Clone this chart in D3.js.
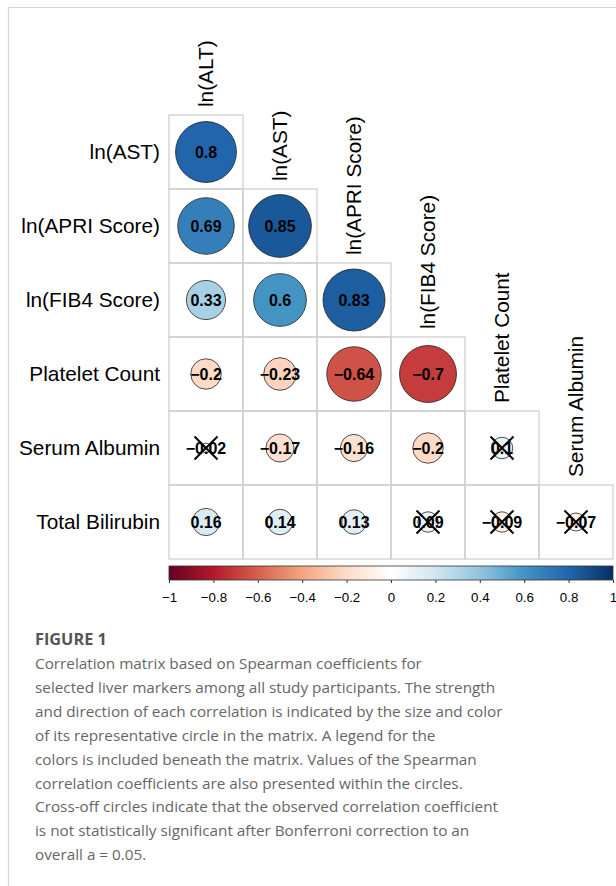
<!DOCTYPE html>
<html>
<head>
<meta charset="utf-8">
<script src="https://cdn.jsdelivr.net/npm/d3@7"></script>
<style>
  html, body { margin: 0; padding: 0; background: #fff; }
  svg { display: block; }
  .chartfont { font-family: "Liberation Sans", Arimo, Helvetica, Arial, sans-serif; }
  .capfont { font-family: "Open Sans", "Noto Sans", sans-serif; }
</style>
</head>
<body>
<svg id="chart" width="616" height="886"></svg>
<script>
// Variables in the lower-triangular Spearman correlation matrix
const rowVars = ["ln(AST)", "ln(APRI Score)", "ln(FIB4 Score)", "Platelet Count", "Serum Albumin", "Total Bilirubin"];
const colVars = ["ln(ALT)", "ln(AST)", "ln(APRI Score)", "ln(FIB4 Score)", "Platelet Count", "Serum Albumin"];

// Spearman coefficients, one row per rowVars entry (columns ln(ALT) ... )
const rhoAST      = [0.8];
const rhoAPRI     = [0.69, 0.85];
const rhoFIB4     = [0.33, 0.6, 0.83];
const rhoPlatelet = [-0.2, -0.23, -0.64, -0.7];
const rhoAlbumin  = [-0.02, -0.17, -0.16, -0.2, 0.1];
const rhoBili     = [0.16, 0.14, 0.13, 0.09, -0.09, -0.07];
const rhoRows = [rhoAST, rhoAPRI, rhoFIB4, rhoPlatelet, rhoAlbumin, rhoBili];

// Non-significant after Bonferroni correction (row, column)
const notSignificant = [[4, 0], [4, 4], [5, 3], [5, 4], [5, 5]];

// Colour legend ticks
const legendTicks = [-1, -0.8, -0.6, -0.4, -0.2, 0, 0.2, 0.4, 0.6, 0.8, 1];

// Caption
const figureTitle = "FIGURE 1";
const captionLines = [
  "Correlation matrix based on Spearman coefficients for",
  "selected liver markers among all study participants. The strength",
  "and direction of each correlation is indicated by the size and color",
  "of its representative circle in the matrix. A legend for the",
  "colors is included beneath the matrix. Values of the Spearman",
  "correlation coefficients are also presented within the circles.",
  "Cross-off circles indicate that the observed correlation coefficient",
  "is not statistically significant after Bonferroni correction to an",
  "overall a = 0.05."
];

// Red-white-blue diverging palette
const paletteStops = ["#67001F", "#B2182B", "#D6604D", "#F4A582", "#FDDBC7", "#FFFFFF",
                      "#D1E5F0", "#92C5DE", "#4393C3", "#2166AC", "#053061"];
const color = d3.scaleLinear()
  .domain(d3.range(11).map(i => -1 + i * 0.2))
  .range(paletteStops)
  .interpolate(d3.interpolateRgb)
  .clamp(true);

const svg = d3.select("#chart");
const fmt = v => String(Math.round(v * 100) / 100).replace("-", "\u2212");

// Card border
svg.append("line").attr("x1", 8.5).attr("x2", 616).attr("y1", 7.5).attr("y2", 7.5)
  .attr("stroke", "#d4d4d4").attr("stroke-width", 1.2);
svg.append("line").attr("x1", 8.5).attr("x2", 8.5).attr("y1", 7.5).attr("y2", 886)
  .attr("stroke", "#d4d4d4").attr("stroke-width", 1.2);

// Matrix scales
const x = d3.scaleBand().domain(d3.range(colVars.length)).range([169, 613]);
const y = d3.scaleBand().domain(d3.range(rowVars.length)).range([115, 559]);
const cell = x.bandwidth();
const rScale = d3.scaleSqrt().domain([0, 1]).range([0, cell * 0.46]);

const cells = [];
rhoRows.forEach((row, i) => row.forEach((v, j) => cells.push({ i, j, v })));
const isCrossed = d => notSignificant.some(([a, b]) => a === d.i && b === d.j);

const g = svg.append("g").attr("class", "chartfont");

// Grid
g.selectAll("rect.cell").data(cells).join("rect")
  .attr("class", "cell")
  .attr("x", d => x(d.j)).attr("y", d => y(d.i))
  .attr("width", cell).attr("height", cell)
  .attr("fill", "none").attr("stroke", "#cfcfcf").attr("stroke-width", 1.3);

// Circles
g.selectAll("circle").data(cells).join("circle")
  .attr("cx", d => x(d.j) + cell / 2).attr("cy", d => y(d.i) + cell / 2)
  .attr("r", d => rScale(Math.abs(d.v)))
  .attr("fill", d => color(d.v))
  .attr("stroke", "#222").attr("stroke-width", 0.8);

// Coefficient labels
g.selectAll("text.val").data(cells).join("text")
  .attr("class", "val")
  .attr("x", d => x(d.j) + cell / 2).attr("y", d => y(d.i) + cell / 2)
  .attr("dy", "0.36em").attr("text-anchor", "middle")
  .style("font-weight", "bold").style("font-size", "16px")
  .attr("fill", "#000")
  .text(d => fmt(d.v));

// Crosses for non-significant coefficients
const crossHalf = 11.5;
cells.filter(isCrossed).forEach(d => {
  const cx = x(d.j) + cell / 2, cy = y(d.i) + cell / 2;
  g.append("path")
    .attr("d", `M${cx - crossHalf},${cy - crossHalf}L${cx + crossHalf},${cy + crossHalf}M${cx - crossHalf},${cy + crossHalf}L${cx + crossHalf},${cy - crossHalf}`)
    .attr("stroke", "#000").attr("stroke-width", 2).attr("fill", "none");
});

// Row labels
g.selectAll("text.rowlab").data(rowVars).join("text")
  .attr("class", "rowlab")
  .attr("x", 160).attr("y", (d, i) => y(i) + cell / 2)
  .attr("dy", "0.35em").attr("text-anchor", "end")
  .style("font-size", "20.8px").attr("fill", "#000")
  .text(d => d);

// Column labels (rotated, sitting above the first cell of each column)
g.selectAll("text.collab").data(colVars).join("text")
  .attr("class", "collab")
  .attr("transform", (d, j) => `translate(${x(j) + cell / 2},${y(j) - 8}) rotate(-90)`)
  .attr("dy", "0.35em").attr("text-anchor", "start")
  .style("font-size", "20.8px").attr("fill", "#000")
  .text(d => d);

// Colour legend
const lx = d3.scaleLinear().domain([-1, 1]).range([169, 613]);
const defs = svg.append("defs");
const grad = defs.append("linearGradient").attr("id", "rdbu").attr("x1", "0%").attr("x2", "100%");
paletteStops.forEach((c, k) => grad.append("stop").attr("offset", `${k * 10}%`).attr("stop-color", c));
svg.append("rect").attr("x", lx(-1)).attr("y", 566).attr("width", lx(1) - lx(-1)).attr("height", 14)
  .attr("fill", "url(#rdbu)").attr("stroke", "#333").attr("stroke-width", 0.8);
const axis = d3.axisBottom(lx).tickValues(legendTicks).tickSize(3).tickPadding(10)
  .tickFormat(v => v === 0 ? "0" : fmt(v));
const ag = svg.append("g").attr("class", "chartfont").attr("transform", "translate(0,580)").call(axis);
ag.attr("font-family", null);
ag.select(".domain").remove();
ag.selectAll("line").attr("stroke", "#333");
ag.selectAll("text").style("font-size", "13.3px").attr("fill", "#000");

// Caption
svg.append("text").attr("class", "capfont").attr("x", 35).attr("y", 645)
  .style("font-weight", "bold").style("font-size", "16.3px")
  .attr("fill", "#555").text(figureTitle);
svg.append("g").attr("class", "capfont").selectAll("text").data(captionLines).join("text")
  .attr("x", 35).attr("y", (d, i) => 669 + i * 23.9)
  .style("font-size", "15.3px").attr("fill", "#666")
  .text(d => d);
</script>
</body>
</html>
